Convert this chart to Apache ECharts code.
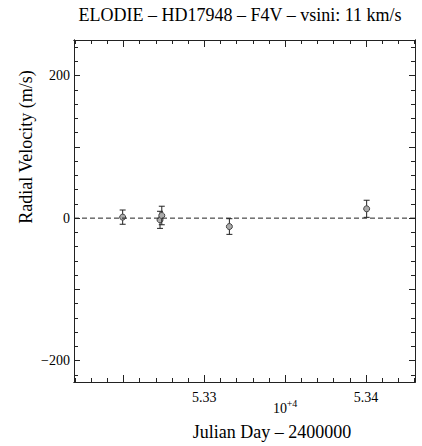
<!DOCTYPE html>
<html>
<head>
<meta charset="utf-8">
<script src="https://cdn.jsdelivr.net/npm/echarts@6/dist/echarts.min.js"></script>
<style>html,body{margin:0;padding:0;background:#fff}#c{width:422px;height:446px}</style>
</head>
<body>
<div id="c"></div>
<script>
// ---- data ----
var julianDay = [53249.5, 53272.6, 53273.7, 53315.5, 53400.4];
var radialVelocity = [1.4, -2.4, 3.7, -11.8, 13.1];
var rvError = [10, 12, 13, 11, 12];

var xRange = [53219.4, 53430.3];
var yRange = [-230, 250];
var xMajorTicks = [53250, 53300, 53350, 53400];
var xLabelValues = [53300, 53400];
var yMajorTicks = [-200, -100, 0, 100, 200];
var yLabelValues = [-200, 0, 200];

var titleText = 'ELODIE \u2013 HD17948 \u2013 F4V \u2013 vsini: 11 km/s';
var xName = 'Julian Day \u2013 2400000';
var yName = 'Radial Velocity (m/s)';

// minor tick positions
var xMinorTicks = [];
for (var v = 53220; v <= 53430; v += 10) xMinorTicks.push(v);
var yMinorTicks = [];
for (var w = -220; w <= 240; w += 20) yMinorTicks.push(w);

var FONT = 'Liberation Serif';
var GRID = {left: 74, right: 7, top: 40, bottom: 64, containLabel: false};

function axLine() { return {show: true, onZero: false, lineStyle: {color: '#222', width: 1}}; }

function xAx(grid, pos, major, labels) {
  return {
    type: 'value', gridIndex: grid, position: pos, min: xRange[0], max: xRange[1],
    axisLine: axLine(),
    splitLine: {show: false},
    axisTick: {show: true, inside: true, length: major ? 7 : 4,
      customValues: major ? xMajorTicks : xMinorTicks,
      lineStyle: {color: '#222', width: 1}},
    axisLabel: labels ? {show: true, customValues: xLabelValues,
      formatter: function (v) { return (v / 1e4).toFixed(2); },
      fontFamily: FONT, fontSize: 14, color: '#000', margin: 8} : {show: false}
  };
}
function yAx(grid, pos, major, labels) {
  return {
    type: 'value', gridIndex: grid, position: pos, min: yRange[0], max: yRange[1],
    axisLine: axLine(),
    splitLine: {show: false},
    axisTick: {show: true, inside: true, length: major ? 6 : 4,
      customValues: major ? yMajorTicks : yMinorTicks,
      lineStyle: {color: '#222', width: 1}},
    axisLabel: labels ? {show: true, customValues: yLabelValues,
      formatter: function (v) { return v < 0 ? '\u2212' + Math.abs(v) : String(v); },
      fontFamily: FONT, fontSize: 14, color: '#000', margin: 4} : {show: false}
  };
}

function txt(x, y, s, size, rot) {
  var o = {type: 'text', x: x, y: y,
    style: {text: s, fontFamily: FONT, fontSize: size, fill: '#000', align: 'center', verticalAlign: 'middle'}};
  if (rot) o.rotation = rot;
  return o;
}

var pts = julianDay.map(function (x, i) { return [x, radialVelocity[i], rvError[i]]; });

var chart = echarts.init(document.getElementById('c'), null, {renderer: 'svg'});
chart.setOption({
  animation: false,
  backgroundColor: '#fff',
  textStyle: {fontFamily: FONT},
  grid: [GRID, GRID],
  xAxis: [xAx(0, 'bottom', true, true), xAx(0, 'top', true, false), xAx(1, 'bottom', false, false), xAx(1, 'top', false, false)],
  yAxis: [yAx(0, 'left', true, true), yAx(0, 'right', true, false), yAx(1, 'left', false, false), yAx(1, 'right', false, false)],
  graphic: [
    txt(240, 15, titleText, 18),
    txt(272, 432, xName, 18),
    txt(280, 408, '10', 14),
    txt(292, 403, '+4', 10),
    txt(26, 147, yName, 18, Math.PI / 2)
  ],
  series: [
    {
      type: 'line', xAxisIndex: 0, yAxisIndex: 0, symbol: 'none', silent: true,
      data: [[xRange[0], 0], [xRange[1], 0]],
      lineStyle: {color: '#222', width: 1, type: [5, 3]}
    },
    {
      type: 'custom', xAxisIndex: 0, yAxisIndex: 0,
      data: pts,
      renderItem: function (params, api) {
        var x = api.value(0), y = api.value(1), e = api.value(2);
        var c = api.coord([x, y]);
        var hi = api.coord([x, y + e]);
        var lo = api.coord([x, y - e]);
        var cap = 3;
        var st = {stroke: '#222', lineWidth: 1};
        return {type: 'group', children: [
          {type: 'line', shape: {x1: c[0], y1: hi[1], x2: c[0], y2: lo[1]}, style: st},
          {type: 'line', shape: {x1: c[0] - cap, y1: hi[1], x2: c[0] + cap, y2: hi[1]}, style: st},
          {type: 'line', shape: {x1: c[0] - cap, y1: lo[1], x2: c[0] + cap, y2: lo[1]}, style: st},
          {type: 'circle', shape: {cx: c[0], cy: c[1], r: 3}, style: {fill: '#aaa', stroke: '#444', lineWidth: 1}}
        ]};
      }
    }
  ]
});
</script>
</body>
</html>
